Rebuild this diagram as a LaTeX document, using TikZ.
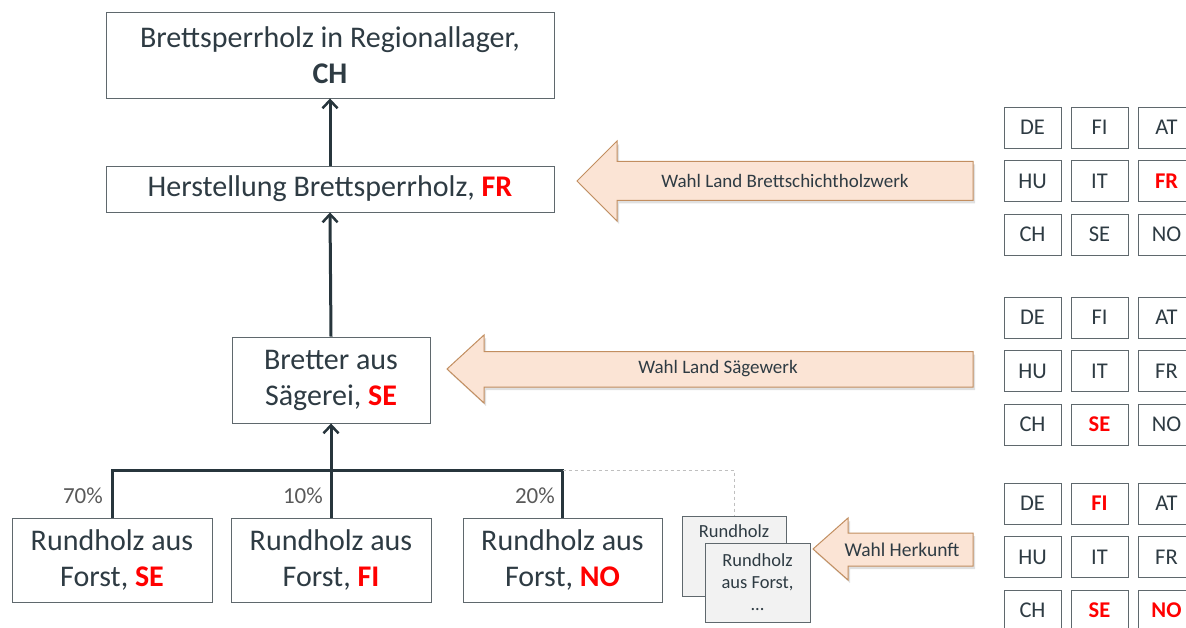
\documentclass[tikz,border=0pt]{standalone}
\usepackage{fontspec}
\setmainfont{Carlito}
\usetikzlibrary{arrows.meta,calc}
\definecolor{txt}{HTML}{2E3B43}
\definecolor{ln}{HTML}{27353C}
\definecolor{bord}{HTML}{5F686D}
\definecolor{pctc}{HTML}{595959}
\definecolor{hot}{HTML}{FF0000}
\definecolor{afill}{HTML}{FBE4D5}
\definecolor{aline}{HTML}{C28E60}
\definecolor{sfill}{HTML}{F2F2F2}
\newcommand{\hl}[1]{\textcolor{hot}{\bfseries #1}}
\tikzset{
  mainbox/.style={draw=bord,line width=0.9pt,fill=white,text=txt,align=center,inner sep=0pt,font=\fontsize{30}{36}\selectfont},
  conn/.style={draw=ln,line width=3pt},
  connarrow/.style={conn,-{Straight Barb[length=8pt,width=15pt,line width=2.5pt]}},
  pct/.style={text=pctc,font=\fontsize{23}{26}\selectfont,inner sep=0pt},
  sbox/.style={draw=bord,line width=0.9pt,fill=sfill,inner sep=0pt},
  stxt/.style={text=txt,align=center,font=\fontsize{18.5}{22}\selectfont,inner sep=0pt},
  cbox/.style={draw=bord,line width=0.9pt,fill=white,text=txt,minimum width=57pt,minimum height=41pt,inner sep=0pt,font=\fontsize{22.5}{26}\selectfont},
  bigarr/.style={draw=aline,line width=1pt,fill=afill,line join=miter},
  shad/.style={fill=black,opacity=0.12,draw=none},
  atxt/.style={text=txt,font=\fontsize{19}{22}\selectfont,inner sep=0pt}
}
\expandafter\def\csname redaFR\endcsname{}
\expandafter\def\csname redbSE\endcsname{}
\expandafter\def\csname redcFI\endcsname{}
\expandafter\def\csname redcSE\endcsname{}
\expandafter\def\csname redcNO\endcsname{}
\begin{document}
\begin{tikzpicture}[x=1pt,y=-1pt]
\useasboundingbox (0,0) rectangle (1186,628);
\clip (0,0) rectangle (1186,628);

% main boxes
\node[mainbox,minimum width=448pt,minimum height=86pt] (top) at (330,55) {Brettsperrholz in Regionallager,\\ \textbf{CH}};
\node[mainbox,minimum width=448pt,minimum height=46pt] (her) at (330,189) {Herstellung Brettsperrholz, \hl{FR}};
\node[mainbox,minimum width=198pt,minimum height=86pt] (bre) at (331,380) {Bretter aus\\ Sägerei, \hl{SE}};
\node[mainbox,minimum width=200pt,minimum height=84pt] (r1) at (112,560) {Rundholz aus\\ Forst, \hl{SE}};
\node[mainbox,minimum width=200pt,minimum height=84pt] (r2) at (331,560) {Rundholz aus\\ Forst, \hl{FI}};
\node[mainbox,minimum width=199pt,minimum height=84pt] (r3) at (562.5,560) {Rundholz aus\\ Forst, \hl{NO}};

% connectors
\coordinate (j) at (331,470);
\draw[connarrow] (her.north) -- (top.south);
\draw[connarrow] (bre.north) -- (her.south);
\draw[connarrow] (j) -- (bre.south);
\draw[conn] (r1.north) -- (r1.north |- j) -| (r3.north);
\draw[conn] (r2.north) -- (j);

% percentages
\node[pct,anchor=east] (p1) at (103,496) {70\%};
\node[pct,anchor=east] (p2) at (323,496) {10\%};
\node[pct,anchor=east] (p3) at (555,496) {20\%};

% small stacked boxes
\node[sbox,minimum width=104pt,minimum height=80pt] (b1) at (734,556) {};
\node[stxt,anchor=north] (b1t) at ($(b1.north)+(0,9)$) {Rundholz};
\node[sbox,minimum width=105pt,minimum height=79pt,stxt] (b2) at (757.5,582.5) {Rundholz\\ aus Forst,\\ ...};
\draw[gray!50,dashed,line width=0.8pt] (r3.north |- j) -| (b1.north);

% big arrows
\begin{scope}[shift={(2,3)}]
\fill[shad] (577,181) -- (617,141) -- (617,161.5) -- (973,161.5) -- (973,200.5) -- (617,200.5) -- (617,221) -- cycle;
\fill[shad] (447,369) -- (484,335) -- (484,351.5) -- (973,351.5) -- (973,387) -- (484,387) -- (484,403) -- cycle;
\fill[shad] (813,549) -- (848,518) -- (848,533) -- (973,533) -- (973,566) -- (848,566) -- (848,580) -- cycle;
\end{scope}
\draw[bigarr] (577,181) -- (617,141) -- (617,161.5) -- (973,161.5) -- (973,200.5) -- (617,200.5) -- (617,221) -- cycle;
\node[atxt] (a1) at (785,181) {Wahl Land Brettschichtholzwerk};
\draw[bigarr] (447,369) -- (484,335) -- (484,351.5) -- (973,351.5) -- (973,387) -- (484,387) -- (484,403) -- cycle;
\node[atxt] (a2) at (718,369) {Wahl Land Sägewerk};
\draw[bigarr] (813,549) -- (848,518) -- (848,533) -- (973,533) -- (973,566) -- (848,566) -- (848,580) -- cycle;
\node[atxt,font=\fontsize{19.5}{22}\selectfont] (a3) at (902,550) {Wahl Herkunft};

% country grids
\foreach \gy/\g in {107/a,297/b,483/c}{
  \foreach \lab/\c/\r in {DE/0/0,FI/1/0,AT/2/0,HU/0/1,IT/1/1,FR/2/1,CH/0/2,SE/1/2,NO/2/2}{
    \node[cbox] (\g\lab) at ({1032.5+67*\c},{\gy+20.5+53.5*\r})
      {\ifcsname red\g\lab\endcsname\hl{\lab}\else\lab\fi};
  }
}
\end{tikzpicture}
\end{document}
